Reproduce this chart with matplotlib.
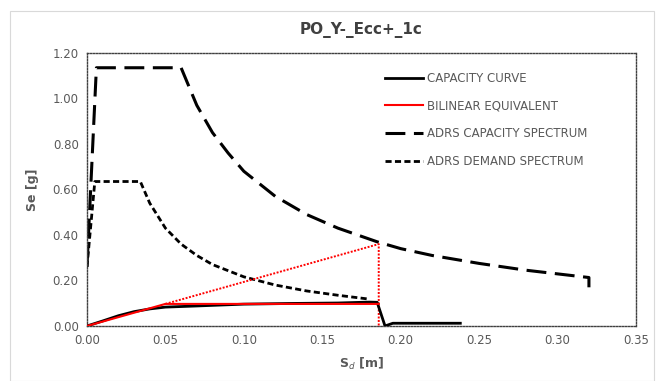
import matplotlib.pyplot as plt
from matplotlib.patches import Rectangle

# capacity curve (pushover in ADRS format)
cap_sd = [0.0, 0.01, 0.02, 0.03, 0.04, 0.05, 0.07, 0.10, 0.13, 0.16, 0.18, 0.185, 0.19, 0.195, 0.238]
cap_sa = [0.0, 0.022, 0.045, 0.063, 0.075, 0.083, 0.088, 0.096, 0.099, 0.101, 0.105, 0.104, 0.0, 0.012, 0.012]

# bilinear equivalent
bil_sd = [0.0, 0.05, 0.186]
bil_sa = [0.0, 0.097, 0.097]
# dotted extension of the elastic branch
ext_sd = [0.05, 0.186, 0.186]
ext_sa = [0.097, 0.36, 0.0]

# ADRS capacity spectrum
spc_sd = [0.0, 0.006, 0.06, 0.07, 0.08, 0.09, 0.10, 0.12, 0.14, 0.16, 0.185, 0.20, 0.22, 0.25, 0.28, 0.32, 0.32]
spc_sa = [0.26, 1.135, 1.135, 0.97, 0.85, 0.76, 0.68, 0.57, 0.49, 0.43, 0.37, 0.34, 0.31, 0.275, 0.245, 0.213, 0.17]

# ADRS demand spectrum
dem_sd = [0.0, 0.005, 0.034, 0.04, 0.05, 0.06, 0.07, 0.08, 0.10, 0.12, 0.14, 0.16, 0.18]
dem_sa = [0.26, 0.635, 0.635, 0.54, 0.43, 0.36, 0.31, 0.27, 0.216, 0.18, 0.154, 0.135, 0.118]

xticks = [0.00, 0.05, 0.10, 0.15, 0.20, 0.25, 0.30, 0.35]
yticks = [0.00, 0.20, 0.40, 0.60, 0.80, 1.00, 1.20]

fig = plt.figure(figsize=(6.56, 3.81), dpi=100)
fig.patches.append(Rectangle((0.015, 0.0), 0.982, 0.972, transform=fig.transFigure,
                             fill=False, edgecolor='#d9d9d9', linewidth=0.8))
ax = fig.add_axes([0.1326, 0.1444, 0.8369, 0.7166])

grey = '#595959'
ax.plot(spc_sd, spc_sa, color='black', linewidth=2.2, dashes=(6.5, 2.8), label='ADRS CAPACITY SPECTRUM', zorder=2)
ax.plot(dem_sd, dem_sa, color='black', linewidth=2.0, dashes=(2.2, 1.2), label='ADRS DEMAND SPECTRUM', zorder=2)
ax.plot(ext_sd, ext_sa, color='red', linewidth=1.4, linestyle=(0, (1, 0.8)), zorder=3)
ax.plot(cap_sd, cap_sa, color='black', linewidth=2.0, label='CAPACITY CURVE', zorder=3)
ax.plot(bil_sd, bil_sa, color='red', linewidth=1.5, label='BILINEAR EQUIVALENT', zorder=4)

ax.set_xlim(0, 0.35)
ax.set_ylim(0, 1.2)
ax.set_xticks(xticks)
ax.set_yticks(yticks)
ax.set_xticklabels([f'{v:.2f}' for v in xticks])
ax.set_yticklabels([f'{v:.2f}' for v in yticks])
ax.tick_params(length=0, labelsize=8.5, colors=grey, pad=6)
for s in ax.spines.values():
    s.set_linestyle((0, (1, 1.2)))
    s.set_color('#404040')
    s.set_linewidth(1.0)

ax.set_title('PO_Y-_Ecc+_1c', fontsize=11, fontweight='bold', color='#404040', pad=14)
ax.set_xlabel('S$_d$ [m]', fontsize=9, fontweight='bold', color=grey, labelpad=6)
ax.set_ylabel('Se [g]', fontsize=9, fontweight='bold', color=grey, labelpad=10)

h, l = ax.get_legend_handles_labels()
order = [l.index('CAPACITY CURVE'), l.index('BILINEAR EQUIVALENT'),
         l.index('ADRS CAPACITY SPECTRUM'), l.index('ADRS DEMAND SPECTRUM')]
leg = ax.legend([h[i] for i in order], [l[i] for i in order], loc='upper right',
                bbox_to_anchor=(0.93, 0.97), frameon=False, fontsize=8.5,
                handlelength=3.2, handletextpad=0.3, labelspacing=1.25)
for t in leg.get_texts():
    t.set_color(grey)

fig.savefig('out.png', dpi=100)
